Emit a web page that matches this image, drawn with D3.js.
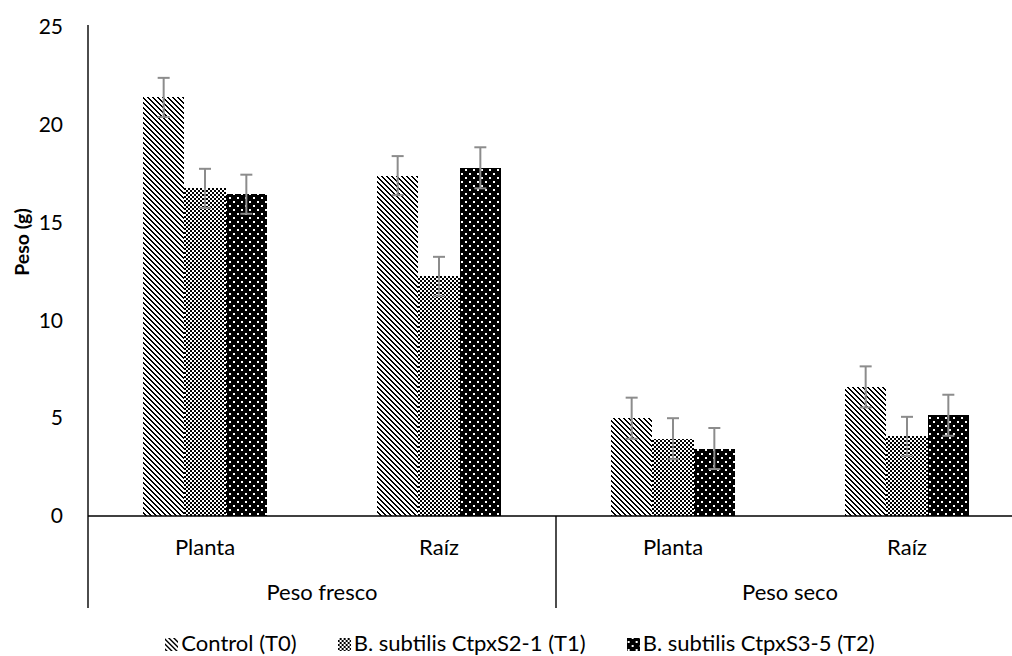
<!DOCTYPE html>
<html>
<head>
<meta charset="utf-8">
<script src="https://cdn.jsdelivr.net/npm/d3@7"></script>
<style>
  html, body { margin: 0; padding: 0; background: #fff; }
  svg { display: block; }
  text { font-family: Lato, "Liberation Sans", sans-serif; fill: #000; }
</style>
</head>
<body>
<svg id="chart" width="1012" height="656"></svg>
<script>
// ---- data ----
const categories = ["Planta", "Raíz", "Planta", "Raíz"];
const groups = ["Peso fresco", "Peso seco"];
const seriesNames = ["Control (T0)", "B. subtilis CtpxS2-1 (T1)", "B. subtilis CtpxS3-5 (T2)"];
const controlValues = [21.4, 17.4, 5.0, 6.6];
const t1Values = [16.75, 12.25, 3.95, 4.07];
const t2Values = [16.45, 17.8, 3.45, 5.15];
const controlErrors = [1.0, 1.0, 1.05, 1.05];
const t1Errors = [1.0, 1.0, 1.05, 1.0];
const t2Errors = [1.0, 1.05, 1.05, 1.05];
const yTicks = [0, 5, 10, 15, 20, 25];
const yTitle = "Peso (g)";

// ---- layout ----
const svg = d3.select("#chart");
const mLeft = 88, mTop = 27, mBottom = 516, catWidth = 234;
const catIdx = d3.range(categories.length);

const x0 = d3.scaleBand().domain(catIdx).range([mLeft, mLeft + catWidth * categories.length]).padding(0);
const x1 = d3.scaleBand().domain(d3.range(seriesNames.length)).range([0, x0.bandwidth()])
  .paddingInner(0).paddingOuter(1.33);
const y = d3.scaleLinear().domain([0, 25]).range([mBottom, mTop]);

// ---- patterns ----
const defs = svg.append("defs");
const p0 = defs.append("pattern").attr("id", "pat0").attr("patternUnits", "userSpaceOnUse")
  .attr("width", 5).attr("height", 5);
p0.append("rect").attr("width", 5).attr("height", 5).attr("fill", "#fff");
for (let r = 0; r < 5; r++) {
  for (const dx of [0, 1]) {
    p0.append("rect").attr("x", (r + dx) % 5).attr("y", r).attr("width", 1).attr("height", 1).attr("fill", "#000");
  }
}
const p1 = defs.append("pattern").attr("id", "pat1").attr("patternUnits", "userSpaceOnUse")
  .attr("width", 4).attr("height", 4);
p1.append("rect").attr("width", 4).attr("height", 4).attr("fill", "#fff");
p1.append("rect").attr("x", 0).attr("y", 0).attr("width", 2).attr("height", 2).attr("fill", "#000");
p1.append("rect").attr("x", 2).attr("y", 2).attr("width", 2).attr("height", 2).attr("fill", "#000");
const p2 = defs.append("pattern").attr("id", "pat2").attr("patternUnits", "userSpaceOnUse")
  .attr("width", 8).attr("height", 8);
p2.append("rect").attr("width", 8).attr("height", 8).attr("fill", "#000");
p2.append("rect").attr("x", 1).attr("y", 1).attr("width", 2).attr("height", 2).attr("fill", "#fff");
p2.append("rect").attr("x", 5).attr("y", 5).attr("width", 2).attr("height", 2).attr("fill", "#fff");

const series = [
  { name: seriesNames[0], values: controlValues, errors: controlErrors, fill: "url(#pat0)" },
  { name: seriesNames[1], values: t1Values, errors: t1Errors, fill: "url(#pat1)" },
  { name: seriesNames[2], values: t2Values, errors: t2Errors, fill: "url(#pat2)" }
];

// ---- bars ----
const barData = [];
series.forEach((s, si) => s.values.forEach((v, ci) => barData.push({ si, ci, v, e: s.errors[ci], fill: s.fill })));

svg.append("g").selectAll("rect").data(barData).join("rect")
  .attr("x", d => x0(d.ci) + x1(d.si))
  .attr("y", d => y(d.v))
  .attr("width", x1.bandwidth())
  .attr("height", d => y(0) - y(d.v))
  .attr("fill", d => d.fill)
  .attr("shape-rendering", "crispEdges");

// ---- error bars ----
const eg = svg.append("g").attr("stroke", "#8c8c8c").attr("stroke-width", 2).attr("fill", "none");
barData.forEach(d => {
  const cx = x0(d.ci) + x1(d.si) + x1.bandwidth() / 2;
  const yt = y(d.v + d.e), yb = y(d.v - d.e);
  eg.append("line").attr("x1", cx).attr("x2", cx).attr("y1", yt).attr("y2", yb);
  eg.append("line").attr("x1", cx - 6).attr("x2", cx + 6).attr("y1", yt).attr("y2", yt);
  eg.append("line").attr("x1", cx - 6).attr("x2", cx + 6).attr("y1", yb).attr("y2", yb);
});

// ---- y axis ----
const yAxis = svg.append("g").attr("transform", `translate(${mLeft},0)`)
  .call(d3.axisLeft(y).tickValues(yTicks).tickSize(0).tickPadding(25));
yAxis.select(".domain").remove();
yAxis.selectAll("text").style("font-size", "21px").style("font-family", "Lato, sans-serif").attr("fill", "#000");

const catBottom = 608;
svg.append("line").attr("x1", mLeft).attr("x2", mLeft).attr("y1", y(25) - 2).attr("y2", catBottom)
  .attr("stroke", "#000").attr("stroke-width", 1.4);

// ---- x axis ----
svg.append("line").attr("x1", mLeft).attr("x2", 1012).attr("y1", y(0)).attr("y2", y(0))
  .attr("stroke", "#000").attr("stroke-width", 1.4);

svg.append("g").selectAll("text").data(catIdx).join("text")
  .attr("x", d => x0(d) + x0.bandwidth() / 2)
  .attr("y", 555)
  .attr("text-anchor", "middle")
  .style("font-size", "22px")
  .text(d => categories[d]);

// group divider between groups
svg.append("g").selectAll("line").data([2]).join("line")
  .attr("x1", d => x0(d)).attr("x2", d => x0(d))
  .attr("y1", y(0)).attr("y2", catBottom)
  .attr("stroke", "#000").attr("stroke-width", 1.4);

svg.append("g").selectAll("text").data(groups).join("text")
  .attr("x", (d, i) => mLeft + catWidth * (2 * i + 1))
  .attr("y", 600)
  .attr("text-anchor", "middle")
  .style("font-size", "22px")
  .text(d => d);

// y title
svg.append("text")
  .attr("transform", "translate(29,242) rotate(-90)")
  .attr("text-anchor", "middle")
  .style("font-size", "19.5px")
  .style("font-weight", "bold")
  .text(yTitle);

// ---- legend ----
const lg = svg.append("g");
const sym = 13, gapSymText = 3, gapItems = 41;
const items = lg.selectAll("g").data(series).join("g");
items.append("rect").attr("width", sym).attr("height", sym).attr("y", 638).attr("fill", d => d.fill)
  .attr("shape-rendering", "crispEdges");
items.append("text").attr("x", sym + gapSymText).attr("y", 651)
  .style("font-size", "22px").text(d => d.name);
const widths = [];
items.each(function() {
  const w = d3.select(this).select("text").node().getComputedTextLength();
  widths.push(sym + gapSymText + w);
});
const total = d3.sum(widths) + gapItems * (widths.length - 1);
let cursor = 520 - total / 2;
items.each(function(d, i) {
  d3.select(this).attr("transform", `translate(${cursor},0)`);
  cursor += widths[i] + gapItems;
});
</script>
</body>
</html>
